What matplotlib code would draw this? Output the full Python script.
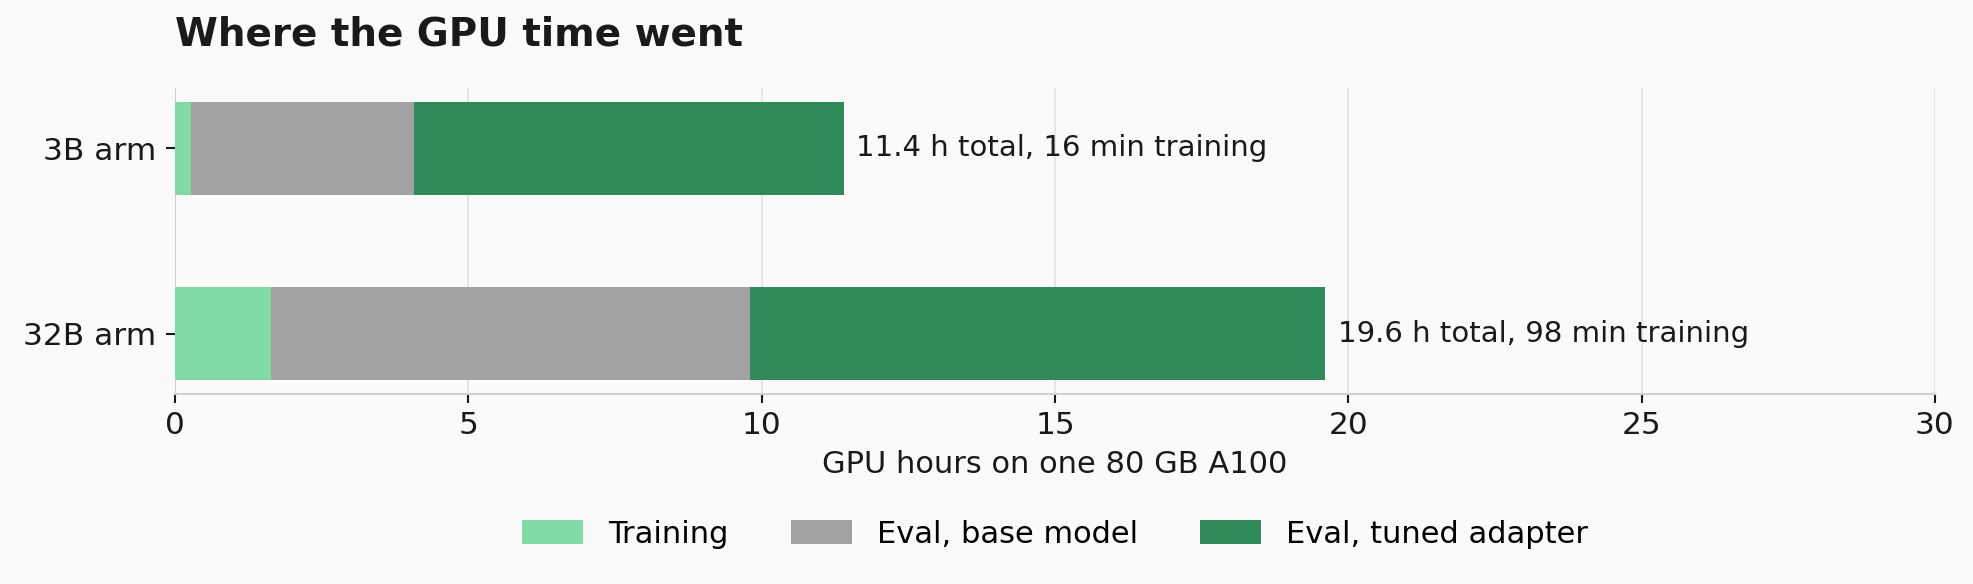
import matplotlib.pyplot as plt
import numpy as np

# Data
arms = ["3B arm", "32B arm"]
training_h = [16 / 60, 98 / 60]
eval_base_h = [3.80, 8.17]
eval_tuned_h = [7.33, 9.80]
labels = ["11.4 h total, 16 min training", "19.6 h total, 98 min training"]
series_names = ["Training", "Eval, base model", "Eval, tuned adapter"]
colors = ["#82dba5", "#a2a2a2", "#2f8a57"]

bg = "#fafafa"
txt_col = "#1a1a1a"

fig = plt.figure(figsize=(19.74, 5.84), dpi=100, facecolor=bg)
ax = fig.add_axes([0.0887, 0.3253, 0.8915, 0.524])
ax.set_facecolor(bg)

y = np.arange(len(arms))
left = np.zeros(len(arms))
for vals, name, col in zip([training_h, eval_base_h, eval_tuned_h], series_names, colors):
    ax.barh(y, vals, left=left, height=0.5, color=col, label=name, zorder=3)
    left = left + np.array(vals)

# Annotations at bar ends
for yi, end, txt in zip(y, left, labels):
    ax.annotate(txt, xy=(end, yi), xytext=(9, 0), textcoords="offset points",
                va="center", ha="left", fontsize=21, color=txt_col)

ax.set_yticks(y)
ax.set_yticklabels(arms, fontsize=22.5, color=txt_col)
ax.set_ylim(1.325, -0.325)
ax.set_xlim(0, 30)
ax.set_xticks([0, 5, 10, 15, 20, 25, 30])
ax.tick_params(axis="x", labelsize=22.5, colors=txt_col, length=6.5, width=1.5, pad=6)
ax.tick_params(axis="y", length=6.5, width=1.5, colors=txt_col, pad=7)
ax.set_xlabel("GPU hours on one 80 GB A100", fontsize=22, color=txt_col, labelpad=7)

# Grid and spines
ax.grid(axis="x", color="#e3e3e3", linewidth=1.2, zorder=0)
ax.spines["top"].set_visible(False)
ax.spines["right"].set_visible(False)
ax.spines["left"].set_color("#d0d0d0")
ax.spines["bottom"].set_color("#d0d0d0")
ax.spines["bottom"].set_linewidth(1.5)

fig.text(0.0887, 1 - 35 / 584, "Where the GPU time went", fontsize=28, fontweight="bold",
         color=txt_col, va="center", ha="left")

fig.legend(*ax.get_legend_handles_labels(), loc="center", bbox_to_anchor=(0.5345, 0.0856),
           ncol=3, frameon=False, fontsize=22, handlelength=2.0, handleheight=0.8,
           columnspacing=2.05, handletextpad=0.8)

fig.savefig("out.png", dpi=100, facecolor=bg)
